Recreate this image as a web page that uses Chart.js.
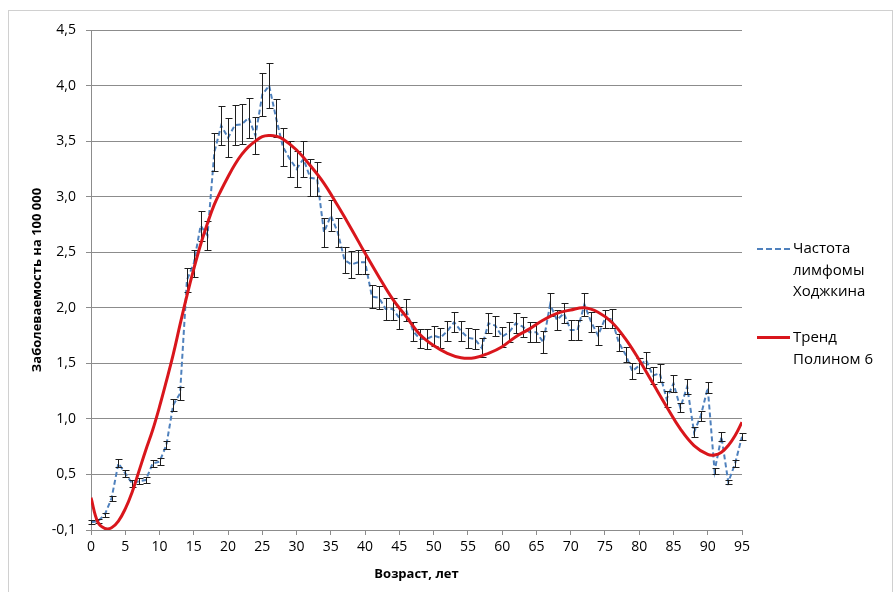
<!DOCTYPE html>
<html>
<head>
<meta charset="utf-8">
<script src="https://cdn.jsdelivr.net/npm/chart.js@4.4.1/dist/chart.umd.min.js"></script>
<style>
  body { margin: 0; background: #fff; }
  #wrap { position: relative; width: 895px; height: 592px; overflow: hidden; }
  #frame { position: absolute; left: 8px; top: 10px; width: 885px; height: 600px; border: 1px solid #d0d0d0; box-sizing: border-box; }
  #hodgkin { position: absolute; left: 0; top: 0; }
  .leg { position: absolute; left: 793px; font: 15px "Open Sans", sans-serif; color: #000; line-height: 21.5px; }
  .swatch { position: absolute; left: 757px; width: 33px; height: 0; }
</style>
</head>
<body>
<div id="wrap">
  <div id="frame"></div>
  <canvas id="hodgkin" width="895" height="592"></canvas>
  <div class="swatch" style="top:248px; border-top:2px dashed #4f81bd;"></div>
  <div class="leg" style="top:237px;">Частота<br>лимфомы<br>Ходжкина</div>
  <div class="swatch" style="top:336px; border-top:3px solid #d9161c;"></div>
  <div class="leg" style="top:326px;">Тренд<br>Полином 6</div>
</div>
<script>
// возраст, лет
const ages = [0, 1, 2, 3, 4, 5, 6, 7, 8, 9, 10, 11, 12, 13, 14, 15, 16, 17, 18, 19,
  20, 21, 22, 23, 24, 25, 26, 27, 28, 29, 30, 31, 32, 33, 34, 35, 36, 37, 38, 39,
  40, 41, 42, 43, 44, 45, 46, 47, 48, 49, 50, 51, 52, 53, 54, 55, 56, 57, 58, 59,
  60, 61, 62, 63, 64, 65, 66, 67, 68, 69, 70, 71, 72, 73, 74, 75, 76, 77, 78, 79,
  80, 81, 82, 83, 84, 85, 86, 87, 88, 89, 90, 91, 92, 93, 94, 95];

// частота на 100 000
const rates = [0.07, 0.08, 0.135, 0.285, 0.60, 0.51, 0.42, 0.44, 0.45, 0.60,
  0.615, 0.765, 1.125, 1.23, 2.25, 2.40, 2.74, 2.65, 3.40, 3.64,
  3.53, 3.645, 3.65, 3.71, 3.55, 3.92, 4.00, 3.71, 3.45, 3.34,
  3.25, 3.34, 3.17, 3.16, 2.68, 2.83, 2.68, 2.43, 2.39, 2.41,
  2.41, 2.10, 2.09, 1.99, 1.99, 1.91, 1.98, 1.79, 1.72, 1.72,
  1.75, 1.73, 1.79, 1.87, 1.79, 1.73, 1.72, 1.64, 1.86, 1.84,
  1.74, 1.78, 1.86, 1.83, 1.78, 1.78, 1.69, 2.03, 1.89, 1.95,
  1.80, 1.80, 2.03, 1.87, 1.75, 1.90, 1.90, 1.69, 1.58, 1.43,
  1.48, 1.53, 1.39, 1.41, 1.18, 1.32, 1.10, 1.29, 0.88, 1.03,
  1.28, 0.53, 0.84, 0.43, 0.60, 0.84];

// полуширина планок погрешностей
const errors = [0.02, 0.02, 0.02, 0.025, 0.035, 0.03, 0.03, 0.03, 0.03, 0.03,
  0.03, 0.035, 0.055, 0.06, 0.11, 0.12, 0.135, 0.13, 0.17, 0.175,
  0.175, 0.18, 0.18, 0.18, 0.17, 0.19, 0.2, 0.17, 0.17, 0.165,
  0.165, 0.165, 0.165, 0.155, 0.13, 0.14, 0.13, 0.12, 0.12, 0.11,
  0.11, 0.105, 0.105, 0.1, 0.1, 0.1, 0.1, 0.085, 0.085, 0.09,
  0.09, 0.09, 0.09, 0.09, 0.09, 0.09, 0.09, 0.085, 0.09, 0.09,
  0.09, 0.09, 0.09, 0.09, 0.09, 0.09, 0.1, 0.1, 0.09, 0.09,
  0.09, 0.09, 0.1, 0.09, 0.085, 0.08, 0.085, 0.075, 0.07, 0.07,
  0.07, 0.075, 0.075, 0.08, 0.07, 0.075, 0.04, 0.07, 0.045, 0.045,
  0.05, 0.025, 0.04, 0.02, 0.03, 0.03];

// тренд (полином 6)
const trendAges = [0, 1, 2, 3, 4, 5, 6, 7, 8, 9, 10, 11, 12, 13, 14, 15, 16, 17, 18, 19,
  20, 21, 22, 23, 24, 25, 26, 27, 28, 30, 32, 34, 36, 38, 40, 42, 44, 46, 48, 50, 52, 54, 56, 58,
  60, 62, 64, 66, 68, 70, 72, 74, 76, 78, 80, 82, 84, 86, 88, 90, 91, 92, 93, 94, 95];
const trendValues = [0.29, 0.07, 0.015, 0.02, 0.08, 0.19, 0.34, 0.53, 0.72, 0.9,
  1.11, 1.34, 1.58, 1.85, 2.11, 2.35, 2.57, 2.76, 2.93, 3.06,
  3.18, 3.29, 3.38, 3.45, 3.50, 3.54, 3.55, 3.545, 3.52, 3.42, 3.28, 3.12, 2.92, 2.71,
  2.49, 2.28, 2.08, 1.92, 1.76, 1.66, 1.59, 1.55, 1.55, 1.59,
  1.65, 1.74, 1.81, 1.89, 1.95, 1.98, 2.0, 1.96, 1.87, 1.72,
  1.53, 1.32, 1.11, 0.91, 0.76, 0.68, 0.675, 0.70, 0.76, 0.85, 0.97];

const gridGray = "#8c8c8c";
const font = "'Open Sans', sans-serif";

// error bars: drawn right after the blue series, under the trend
const errorBars = {
  id: "errorBars",
  afterDatasetDraw(chart, args) {
    if (args.index !== 0) return;
    const { ctx, scales: { x, y } } = chart;
    ctx.save();
    ctx.strokeStyle = "#1e1e1e";
    ctx.lineWidth = 1;
    ages.forEach((age, i) => {
      const px = Math.round(x.getPixelForValue(age)) + 0.5;
      const top = Math.round(y.getPixelForValue(rates[i] + errors[i])) + 0.5;
      const bot = Math.round(y.getPixelForValue(rates[i] - errors[i])) + 0.5;
      ctx.beginPath();
      ctx.moveTo(px, top); ctx.lineTo(px, bot);
      ctx.moveTo(px - 3, top); ctx.lineTo(px + 4, top);
      ctx.moveTo(px - 3, bot); ctx.lineTo(px + 4, bot);
      ctx.stroke();
    });
    ctx.restore();
  }
};

new Chart(document.getElementById("hodgkin"), {
  type: "line",
  data: {
    datasets: [
      {
        label: "Частота лимфомы Ходжкина",
        data: ages.map((a, i) => ({ x: a, y: rates[i] })),
        borderColor: "#4f81bd",
        borderWidth: 2,
        borderDash: [5, 3],
        pointRadius: 0,
        tension: 0,
        order: 2
      },
      {
        label: "Тренд Полином 6",
        data: trendAges.map((a, i) => ({ x: a, y: trendValues[i] })),
        borderColor: "#d9161c",
        borderWidth: 3,
        pointRadius: 0,
        tension: 0.4,
        order: 1
      }
    ]
  },
  options: {
    responsive: false,
    animation: false,
    devicePixelRatio: 1,
    layout: { padding: { left: 0, right: 153, top: 30, bottom: 0 } },
    plugins: { legend: { display: false }, tooltip: { enabled: false } },
    scales: {
      x: {
        type: "linear",
        min: 0,
        max: 95,
        afterFit: (s) => { s.height = 62; },
        ticks: { stepSize: 5, color: "#000", padding: 4, font: { family: font, size: 14 } },
        grid: { drawOnChartArea: false, drawTicks: true, tickLength: 5, color: gridGray },
        border: { color: gridGray },
        title: {
          display: true,
          text: "Возраст, лет",
          color: "#000",
          font: { family: font, size: 13, weight: "bold" },
          padding: { top: 0, bottom: 10 }
        }
      },
      y: {
        min: 0,
        max: 4.5,
        afterFit: (s) => { s.width = 91; },
        ticks: {
          stepSize: 0.5,
          color: "#000",
          padding: 10,
          font: { family: font, size: 14 },
          callback: (v) => (v === 0 ? "-0,1" : v.toFixed(1).replace(".", ","))
        },
        grid: { color: gridGray, tickLength: 5 },
        border: { color: gridGray },
        title: {
          display: true,
          text: "Заболеваемость на 100 000",
          color: "#000",
          font: { family: font, size: 13, weight: "bold" },
          padding: { top: 29, bottom: 0 }
        }
      }
    }
  },
  plugins: [errorBars]
});
</script>
</body>
</html>
